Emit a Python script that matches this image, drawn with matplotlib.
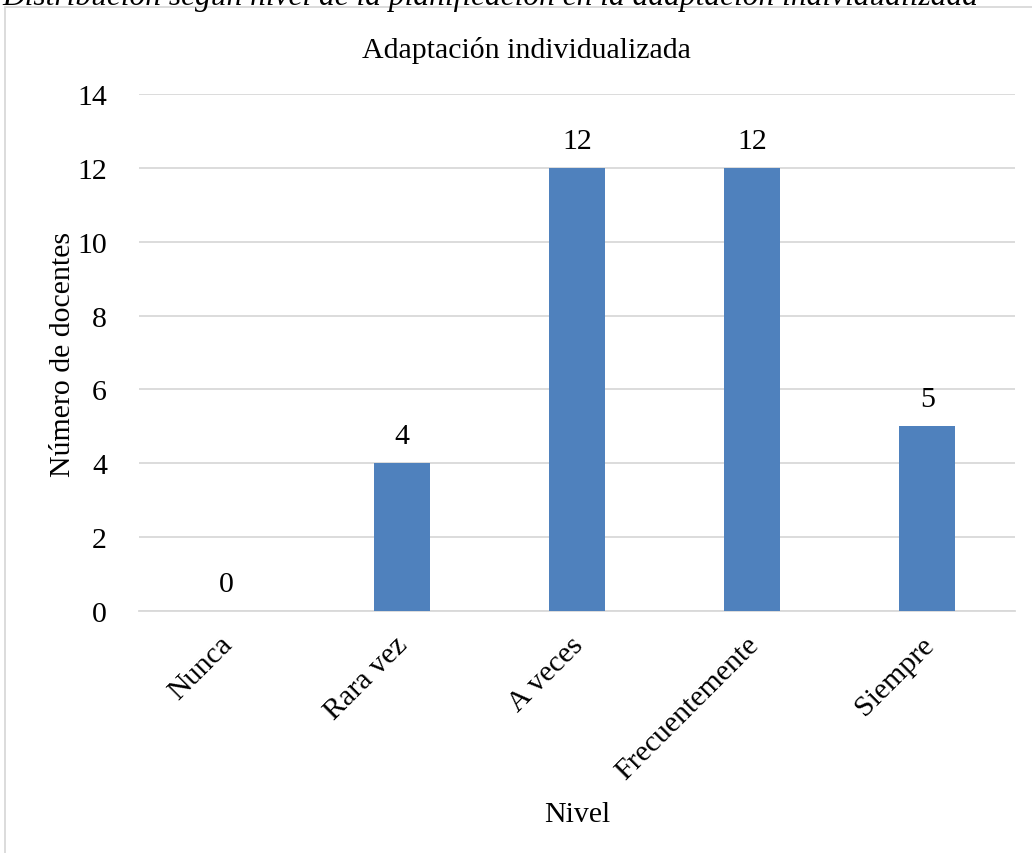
import matplotlib
matplotlib.use("Agg")
import matplotlib.pyplot as plt
import matplotlib.transforms as mtransforms
from matplotlib.patches import Rectangle

categories = ["Nunca", "Rara vez", "A veces", "Frecuentemente", "Siempre"]
values = [0, 4, 12, 12, 5]
yticks = [0, 2, 4, 6, 8, 10, 12, 14]

title = "Adaptación individualizada"
caption = "Distribución según nivel de la planificación en la adaptación individualizada"
xlabel = "Nivel"
ylabel = "Número de docentes"

plt.rcParams['font.family'] = ['Liberation Serif', 'DejaVu Serif']

W, H = 1032, 854
FS = 21.5
fig = plt.figure(figsize=(W / 100, H / 100), dpi=100)
ax = fig.add_axes([139 / W, 1 - 612 / H, (1015 - 139) / W, (612 - 95) / H])

x = list(range(len(categories)))
ax.bar(x, values, width=0.32, color="#4f81bd", zorder=3)
ax.set_xlim(-0.5, len(categories) - 0.5)
ax.set_ylim(0, 14)
ax.set_yticks(yticks)
ax.set_yticklabels([str(v) for v in yticks], fontsize=FS)
ax.set_xticks(x)
ax.set_xticklabels(categories, fontsize=FS, rotation=45, ha="right",
                   rotation_mode="anchor")
ax.tick_params(axis="both", length=0)
ax.tick_params(axis="y", pad=23)
ax.tick_params(axis="x", pad=8)
offset = mtransforms.ScaledTranslation(-7 / 100, -9 / 100, fig.dpi_scale_trans)
for lbl in ax.get_xticklabels():
    lbl.set_transform(lbl.get_transform() + offset)
ax.grid(axis="y", color="#d9d9d9", linewidth=1.3, zorder=0)
for s in ["top", "right", "left"]:
    ax.spines[s].set_visible(False)
ax.spines["bottom"].set_color("#d9d9d9")
ax.spines["bottom"].set_linewidth(1.3)

for xi, v in zip(x, values):
    ax.annotate(str(v), (xi, v), xytext=(0, 19.5), textcoords="offset points",
                ha="center", va="center", fontsize=FS)

fig.text(526 / W, 1 - 50 / H, title, ha="center", va="center", fontsize=FS)
fig.text(577 / W, 1 - 815 / H, xlabel, ha="center", va="center", fontsize=FS)
fig.text(63 / W, 1 - 354 / H, ylabel, ha="center", va="center",
         rotation=90, fontsize=FS)

fig.text(2 / W, 1 - 4.5 / H, caption, ha="left", va="baseline", fontsize=22.6,
         style="italic")

fig.patches.append(Rectangle((5 / W, -0.1), 1.2, 1.1 - 8 / H,
                             transform=fig.transFigure, fill=False,
                             edgecolor="#d9d9d9", linewidth=1.3))

fig.savefig("out.png", dpi=100)
